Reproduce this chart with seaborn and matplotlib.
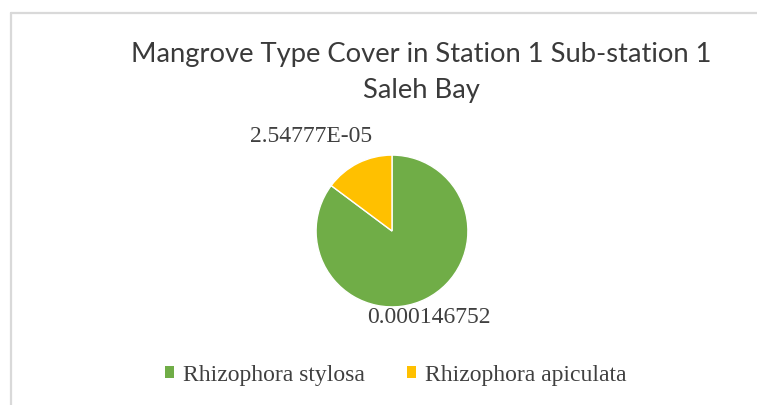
import matplotlib
matplotlib.use("Agg")
import matplotlib.pyplot as plt
from matplotlib.lines import Line2D
from matplotlib.patches import Patch
import seaborn as sns

species = ["Rhizophora stylosa", "Rhizophora apiculata"]
cover = [0.000146752, 2.54777e-05]
value_labels = ["0.000146752", "2.54777E-05"]
colors = ["#70AD47", "#FFC000"]

sns.set_theme(style="white")
plt.rcParams["font.family"] = ["Liberation Serif", "DejaVu Serif"]

W, H = 757, 405
fig = plt.figure(figsize=(W / 100, H / 100), dpi=100)
fig.patch.set_facecolor("white")

# chart-area frame (only top and left edges visible in the crop)
fx = 10.5 / W
fy = 1 - 12.5 / H
fig.add_artist(Line2D([fx, 1], [fy, fy], color="#d9d9d9", lw=1.6))
fig.add_artist(Line2D([fx, fx], [0, fy], color="#d9d9d9", lw=1.6))

ax = fig.add_axes([202 / W, 1 - 398 / H, 380 / W, 334 / H])
ax.pie(cover, colors=colors, startangle=90, counterclock=False, radius=1,
       wedgeprops=dict(edgecolor="white", linewidth=1))
ax.set_xlim(-2.5, 2.5)
ax.set_ylim(-2.2, 2.2)
ax.set_aspect("equal")
ax.axis("off")

# data labels, placed like Excel's best-fit
ax.text(0.49, -1.14, value_labels[0], ha="center", va="center",
        fontsize=17, color="#404040")
ax.text(-1.06, 1.25, value_labels[1], ha="center", va="center",
        fontsize=17, color="#404040")

fig.text(421.5 / W, 1 - 62 / H, "Mangrove Type Cover in Station 1 Sub-station 1",
         ha="center", va="baseline", fontsize=19.7, color="#3a3a3a", family="Lato")
fig.text(421.5 / W, 1 - 98 / H, "Saleh Bay",
         ha="center", va="baseline", fontsize=19.7, color="#3a3a3a", family="Lato")

handles = [Patch(facecolor=c, edgecolor="none") for c in colors]
leg = fig.legend(handles, species, loc="center", bbox_to_anchor=(396 / W, 1 - 375 / H),
                 ncol=2, frameon=False, fontsize=17, handlelength=0.35,
                 handleheight=0.35, handletextpad=0.4, columnspacing=1.8,
                 borderpad=0, borderaxespad=0)
for t in leg.get_texts():
    t.set_color("#404040")

fig.savefig("out.png", dpi=100)
